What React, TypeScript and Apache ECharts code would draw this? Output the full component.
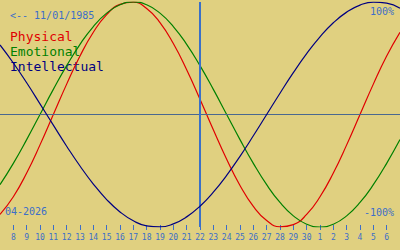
import React, { useEffect, useRef } from "react";
import * as echarts from "echarts";

// Day positions (April 2026 day numbers; 31 = May 1 ...)
const X_DAYS = [7, 8, 9, 10, 11, 12, 13, 14, 15, 16, 17, 18, 19, 20, 21, 22, 23, 24, 25, 26, 27, 28, 29, 30, 31, 32, 33, 34, 35, 36, 37];

const PHYSICAL = [-0.888, -0.731, -0.52, -0.27, 0, 0.27, 0.52, 0.731, 0.888, 0.979, 0.998, 0.942, 0.817, 0.631, 0.398, 0.136, -0.136, -0.398, -0.631, -0.817, -0.942, -0.998, -0.979, -0.888, -0.731, -0.52, -0.27, 0, 0.27, 0.52, 0.731];

const EMOTIONAL = [-0.624, -0.434, -0.223, 0, 0.223, 0.434, 0.624, 0.782, 0.901, 0.975, 1, 0.975, 0.901, 0.782, 0.624, 0.434, 0.223, 0, -0.223, -0.434, -0.624, -0.782, -0.901, -0.975, -1, -0.975, -0.901, -0.782, -0.624, -0.434, -0.223];

const INTELLECTUAL = [0.618, 0.458, 0.282, 0.095, -0.095, -0.282, -0.458, -0.618, -0.756, -0.866, -0.945, -0.99, -0.999, -0.972, -0.91, -0.815, -0.69, -0.541, -0.372, -0.189, 0, 0.189, 0.372, 0.541, 0.69, 0.815, 0.91, 0.972, 0.999, 0.99, 0.945];

const TICK_DAYS = [8, 9, 10, 11, 12, 13, 14, 15, 16, 17, 18, 19, 20, 21, 22, 23, 24, 25, 26, 27, 28, 29, 30, 31, 32, 33, 34, 35, 36];
const TICK_LABELS = ["8", "9", "10", "11", "12", "13", "14", "15", "16", "17", "18", "19", "20", "21", "22", "23", "24", "25", "26", "27", "28", "29", "30", "1", "2", "3", "4", "5", "6"];

const TODAY = 22;
const BIRTH_TEXT = "<-- 11/01/1985";
const MONTH_TEXT = "04-2026";
const SERIES_NAMES = ["Physical", "Emotional", "Intellectual"];

const BG = "#e0d080";
const BLUE = "#3c6ec8";
const COLORS = ["#e00000", "#008000", "#000080"];
const MONO = "DejaVu Sans Mono, monospace";

export default function App() {
  const ref = useRef<HTMLDivElement>(null);

  useEffect(() => {
    document.body.style.margin = "0";
    if (!ref.current) return;
    const chart = echarts.init(ref.current, null, { renderer: "svg" });
    const seriesData = [PHYSICAL, EMOTIONAL, INTELLECTUAL];

    chart.setOption({
      animation: false,
      backgroundColor: BG,
      grid: { left: 0, right: 0, top: 2, bottom: 23, outerBoundsMode: "none" },
      xAxis: [
        { type: "value", min: 7, max: 37, show: false },
        {
          type: "value",
          min: 7,
          max: 37,
          position: "bottom",
          offset: -2,
          axisLine: { show: false },
          splitLine: { show: false },
          axisTick: {
            show: true,
            length: 5,
            customValues: TICK_DAYS,
            lineStyle: { color: BLUE, width: 1 },
          },
          axisLabel: {
            customValues: TICK_DAYS,
            color: BLUE,
            fontFamily: MONO,
            fontSize: 8,
            margin: 8,
            formatter: (v: number) => {
              const i = TICK_DAYS.indexOf(v);
              return i >= 0 ? TICK_LABELS[i] : "";
            },
          },
        },
      ],
      yAxis: { type: "value", min: -1, max: 1, show: false },
      series: [
        ...seriesData.map((d, k) => ({
          name: SERIES_NAMES[k],
          type: "line",
          xAxisIndex: 0,
          smooth: true,
          symbol: "none",
          data: X_DAYS.map((x, i) => [x, d[i]]),
          lineStyle: { color: COLORS[k], width: 1.2 },
          z: 3 + k,
        })),
        {
          type: "line",
          xAxisIndex: 0,
          data: [],
          markLine: {
            silent: true,
            symbol: "none",
            label: { show: false },
            data: [
              { yAxis: 0, lineStyle: { color: "#4a6890", width: 1, type: "solid" } },
              { xAxis: TODAY, lineStyle: { color: "#3a70c8", width: 2, type: "solid" } },
            ],
          },
          z: 2,
        },
      ],
      graphic: [
        {
          type: "text",
          left: 10,
          top: 10,
          style: { text: BIRTH_TEXT, fill: BLUE, font: `10px ${MONO}` },
        },
        ...SERIES_NAMES.map((n, k) => ({
          type: "text",
          left: 10,
          top: 30 + k * 15,
          style: { text: n, fill: COLORS[k], font: `13px ${MONO}` },
        })),
        {
          type: "text",
          right: 6,
          top: 6,
          style: { text: "100%", fill: BLUE, font: `10px ${MONO}` },
        },
        {
          type: "text",
          right: 6,
          top: 207,
          style: { text: "-100%", fill: BLUE, font: `10px ${MONO}` },
        },
        {
          type: "text",
          left: 5,
          top: 206,
          style: { text: MONTH_TEXT, fill: BLUE, font: `10px ${MONO}` },
        },
      ],
    });

    return () => chart.dispose();
  }, []);

  return (
    <div
      ref={ref}
      style={{ position: "absolute", left: 0, top: 0, width: 400, height: 250, background: BG }}
    />
  );
}
